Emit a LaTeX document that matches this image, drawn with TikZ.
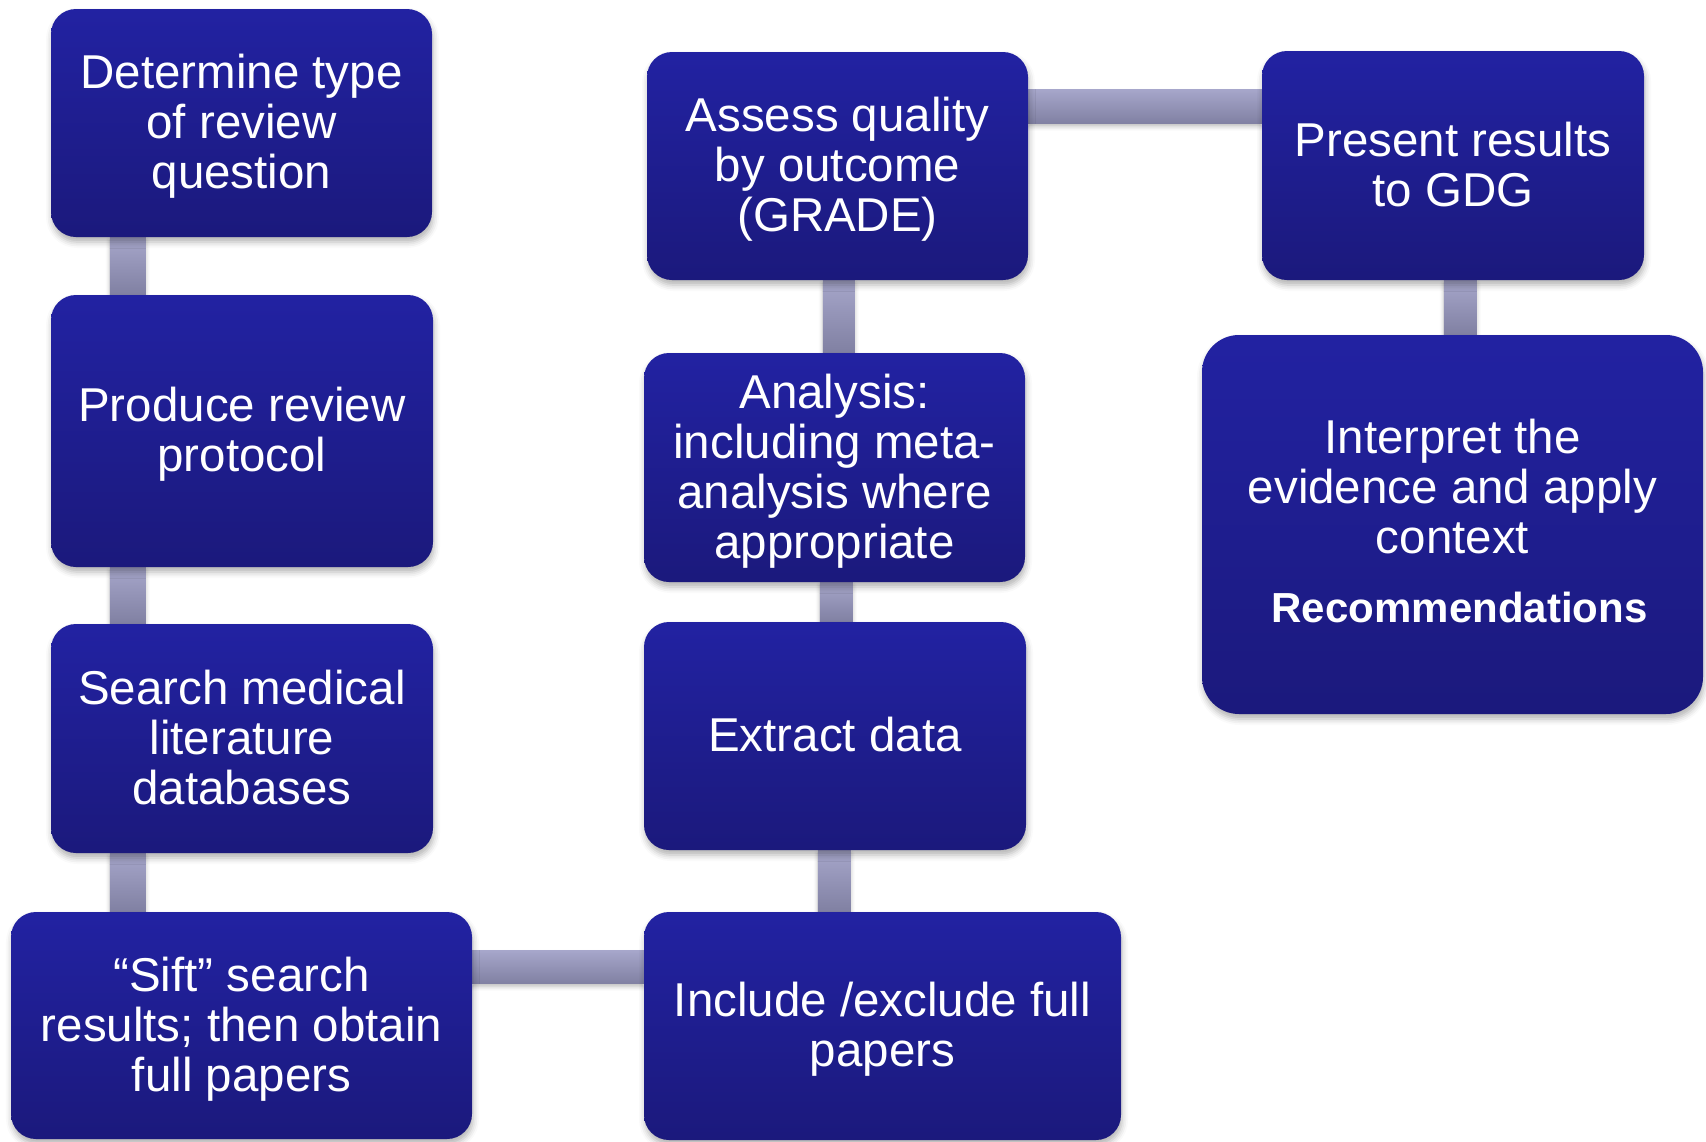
\documentclass[tikz,border=0pt]{standalone}
\usepackage{fontspec}
\setmainfont{Liberation Sans}
\usetikzlibrary{calc,shadows.blur,backgrounds}

\definecolor{boxtop}{RGB}{34,34,162}
\definecolor{boxbot}{RGB}{27,25,124}
\definecolor{linktop}{RGB}{166,166,202}
\definecolor{linkbot}{RGB}{128,128,162}

\tikzset{
  stepbox/.style={rectangle, rounded corners=25pt, top color=boxtop,
    bottom color=boxbot, draw=none, text=white, align=center,
    inner sep=0pt, font=\fontsize{47.5}{50}\selectfont, text depth=3pt,
    blur shadow={shadow xshift=1pt, shadow yshift=-5pt,
      shadow blur radius=6pt, shadow opacity=30}},
  link/.style={top color=linktop, bottom color=linkbot,
    blur shadow={shadow xshift=0pt, shadow yshift=-3pt,
      shadow blur radius=4pt, shadow opacity=25}},
}

\begin{document}
\begin{tikzpicture}[x=1pt,y=-1pt]
\useasboundingbox (0,0) rectangle (1706,1141);

% left column, top to bottom
\node[stepbox, minimum width=381pt, minimum height=228pt] (det) at (241.5,123)
  {Determine type\\of review\\question};
\node[stepbox, minimum width=382pt, minimum height=272pt] (prod) at (242,431)
  {Produce review\\protocol};
\node[stepbox, minimum width=382pt, minimum height=229pt] (search) at (242,738.5)
  {Search medical\\literature\\databases};
\node[stepbox, minimum width=461pt, minimum height=227pt] (sift) at (241.5,1025.5)
  {“Sift” search\\results; then obtain\\full papers};

% middle column, bottom to top
\node[stepbox, minimum width=477pt, minimum height=228pt] (incl) at (882.5,1026)
  {Include /exclude full\\papers};
\node[stepbox, minimum width=382pt, minimum height=228pt] (extract) at (835,736)
  {Extract data};
\node[stepbox, minimum width=381pt, minimum height=229pt] (analysis) at (834.5,467.5)
  {Analysis:\\including meta-\\analysis where\\appropriate};
\node[stepbox, minimum width=381pt, minimum height=228pt] (assess) at (837.5,166)
  {Assess quality\\by outcome\\(GRADE)};

% right column
\node[stepbox, minimum width=382pt, minimum height=229pt] (present) at (1453,165.5)
  {Present results\\to GDG};
\node[stepbox, rounded corners=37pt, text depth=8pt, minimum width=501pt, minimum height=379pt] (interp) at (1452.5,524.5)
  {Interpret the\\evidence and apply\\context\\[19pt]%
   {\fontsize{42}{44}\selectfont\bfseries\hspace*{14pt}Recommendations}};

% connecting bars behind the boxes
\begin{pgfonlayer}{background}
  \shade[link] ($(det.south west)+(59,0)$) rectangle ($(prod.north west)+(95,0)$);
  \shade[link] ($(prod.south west)+(59,0)$) rectangle ($(search.north west)+(95,0)$);
  \shade[link] ($(search.south west)+(59,0)$) rectangle ($(sift.north west)+(135,0)$);
  \shade[link] ($(sift.north east)+(0,39)$) rectangle ($(incl.north west)+(0,72)$);
  \shade[link] ($(extract.south west)+(174,0)$) rectangle ($(incl.north west)+(207,0)$);
  \shade[link] ($(analysis.south west)+(176,0)$) rectangle ($(extract.north west)+(209,0)$);
  \shade[link] ($(assess.south west)+(176,0)$) rectangle ($(analysis.north west)+(211,0)$);
  \shade[link] ($(assess.north east)+(0,38)$) rectangle ($(present.north west)+(0,73)$);
  \shade[link] ($(present.south west)+(182,0)$) rectangle ($(interp.north west)+(275,0)$);
\end{pgfonlayer}
\end{tikzpicture}
\end{document}
